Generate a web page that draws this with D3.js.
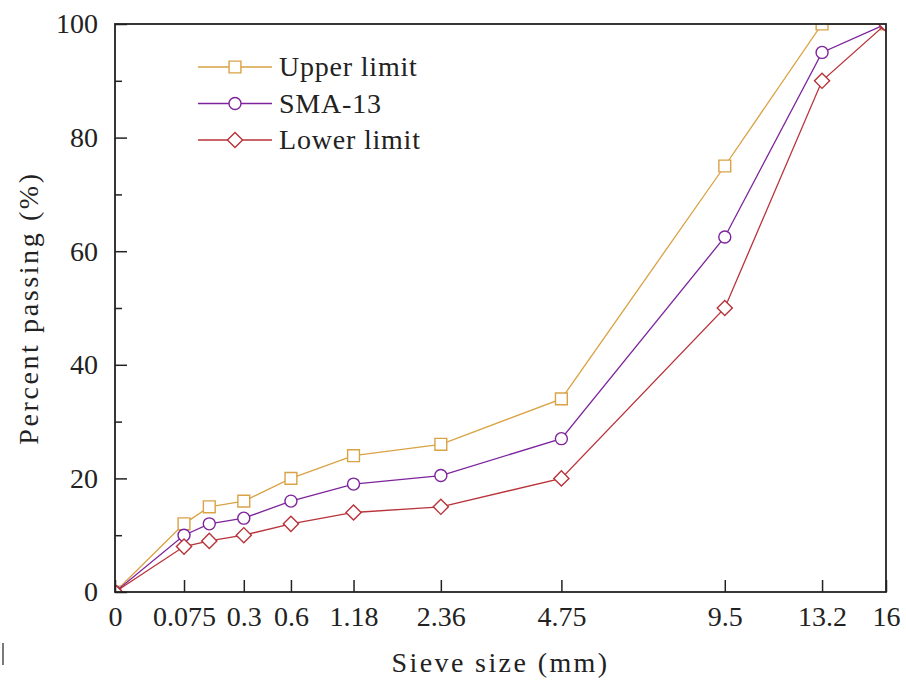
<!DOCTYPE html>
<html>
<head>
<meta charset="utf-8">
<script src="https://cdnjs.cloudflare.com/ajax/libs/d3/7.8.5/d3.min.js"></script>
<style>
  body { margin: 0; background: #fff; }
  svg { display: block; }
  text { font-family: "Liberation Serif", "Times New Roman", serif; fill: #222; }
</style>
</head>
<body>
<svg id="chart"></svg>
<script>
// data
var sieveSizes = [0, 0.075, 0.15, 0.3, 0.6, 1.18, 2.36, 4.75, 9.5, 13.2, 16];
var upperLimit = [0, 12, 15, 16, 20, 24, 26, 34, 75, 100, 100];
var sma13 = [0, 10, 12, 13, 16, 19, 20.5, 27, 62.5, 95, 100];
var lowerLimit = [0, 8, 9, 10, 12, 14, 15, 20, 50, 90, 100];
var xTickValues = [0, 0.075, 0.3, 0.6, 1.18, 2.36, 4.75, 9.5, 13.2, 16];
var yMajorTicks = [0, 20, 40, 60, 80, 100];
var yMinorTicks = [10, 30, 50, 70, 90];
var seriesNames = ['Upper limit', 'SMA-13', 'Lower limit'];

var W = 906, H = 686;
var margin = { top: 24, right: 20, bottom: 94, left: 115 };
var width = W - margin.left - margin.right;
var height = H - margin.top - margin.bottom;

var svg = d3.select('#chart')
    .attr('width', W)
    .attr('height', H);

// gradation charts use the 0.45 power x axis
var xScale = d3.scalePow()
    .exponent(0.45)
    .domain([0, 16])
    .range([0, width]);

var yScale = d3.scaleLinear()
    .domain([0, 100])
    .range([height, 0]);

var series = [
  { name: seriesNames[0], values: upperLimit, color: '#d9a244', marker: 'square' },
  { name: seriesNames[1], values: sma13, color: '#7d249c', marker: 'circle' },
  { name: seriesNames[2], values: lowerLimit, color: '#b8333a', marker: 'diamond' }
];

var g = svg.append('g')
    .attr('transform', 'translate(' + margin.left + ',' + margin.top + ')');

g.append('clipPath')
    .attr('id', 'plot-clip')
  .append('rect')
    .attr('width', width)
    .attr('height', height);

function markerPath(type) {
  if (type === 'circle') return d3.symbol().type(d3.symbolCircle).size(113)();
  return d3.symbol().type(d3.symbolSquare).size(type === 'diamond' ? 115 : 140)();
}

var line = d3.line()
    .x(d => xScale(d.x))
    .y(d => yScale(d.y));

var plot = g.append('g').attr('clip-path', 'url(#plot-clip)');

series.forEach(function(s) {
  var pts = sieveSizes.map((x, i) => ({ x: x, y: s.values[i] }));

  plot.append('path')
      .datum(pts)
      .attr('fill', 'none')
      .attr('stroke', s.color)
      .attr('stroke-width', 1.3)
      .attr('d', line);

  plot.selectAll('.m-' + s.marker)
    .data(pts)
    .enter()
    .append('path')
      .attr('class', 'm-' + s.marker)
      .attr('d', markerPath(s.marker))
      .attr('transform', d => 'translate(' + xScale(d.x) + ',' + yScale(d.y) + ')' + (s.marker === 'diamond' ? ' rotate(45)' : ''))
      .attr('fill', '#fff')
      .attr('stroke', s.color)
      .attr('stroke-width', 1.4);
});

// x axis, ticks point inward
var xAxis = d3.axisBottom(xScale)
    .tickValues(xTickValues)
    .tickFormat(d => String(d))
    .tickSizeInner(-12)
    .tickSizeOuter(0)
    .tickPadding(14);

var xg = g.append('g')
    .attr('transform', 'translate(0,' + height + ')')
    .call(xAxis);
xg.select('.domain').remove();
xg.selectAll('line').attr('stroke', '#222').attr('stroke-width', 1.5);
xg.selectAll('text').style('font-size', '28px').attr('fill', '#222');

// y axis, major + minor
var yAxis = d3.axisLeft(yScale)
    .tickValues(yMajorTicks)
    .tickSizeInner(-12)
    .tickSizeOuter(0)
    .tickPadding(17);

var yg = g.append('g').call(yAxis);
yg.select('.domain').remove();
yg.selectAll('line').attr('stroke', '#222').attr('stroke-width', 1.5);
yg.selectAll('text').style('font-size', '28px').attr('fill', '#222');

var ygMinor = g.append('g')
    .call(d3.axisLeft(yScale).tickValues(yMinorTicks).tickSizeInner(-7).tickSizeOuter(0).tickFormat(''));
ygMinor.select('.domain').remove();
ygMinor.selectAll('line').attr('stroke', '#222').attr('stroke-width', 1.5);

// frame
g.append('rect')
    .attr('width', width)
    .attr('height', height)
    .attr('fill', 'none')
    .attr('stroke', '#222')
    .attr('stroke-width', 1.8);

// axis titles
svg.append('text')
    .attr('x', margin.left + width / 2)
    .attr('y', 672)
    .attr('text-anchor', 'middle')
    .style('font-size', '28px')
    .style('letter-spacing', '2.4px')
    .text('Sieve size (mm)');

svg.append('text')
    .attr('transform', 'translate(38,' + (margin.top + height / 2) + ') rotate(-90)')
    .attr('text-anchor', 'middle')
    .style('font-size', '28px')
    .style('letter-spacing', '2.6px')
    .text('Percent passing (%)');

// legend
var legend = svg.append('g')
    .attr('transform', 'translate(198,67)');

series.forEach(function(s, i) {
  var row = legend.append('g').attr('transform', 'translate(0,' + (i * 36.5) + ')');
  row.append('line')
      .attr('x1', 0).attr('x2', 74)
      .attr('stroke', s.color)
      .attr('stroke-width', 1.3);
  row.append('path')
      .attr('d', markerPath(s.marker))
      .attr('transform', 'translate(37,0)' + (s.marker === 'diamond' ? ' rotate(45)' : ''))
      .attr('fill', '#fff')
      .attr('stroke', s.color)
      .attr('stroke-width', 1.4);
  row.append('text')
      .attr('x', 81)
      .attr('y', 9)
      .style('font-size', '28px')
      .style('letter-spacing', '0.8px')
      .text(s.name);
});

// stray mark at lower left of the original figure
svg.append('line')
    .attr('x1', 3).attr('x2', 3)
    .attr('y1', 643).attr('y2', 665)
    .attr('stroke', '#222')
    .attr('stroke-width', 1.2);
</script>
</body>
</html>
